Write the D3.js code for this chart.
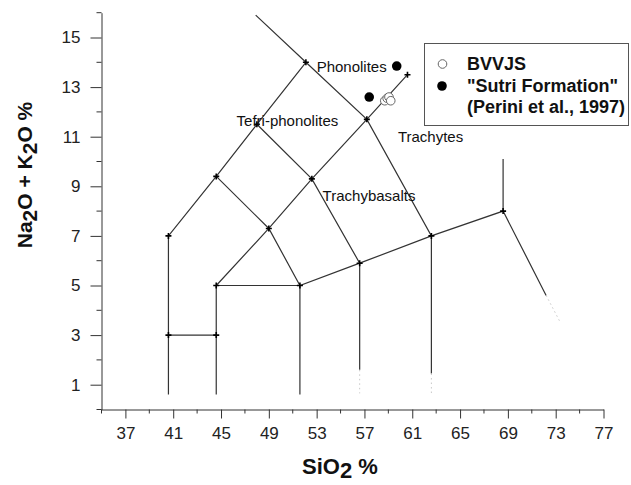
<!DOCTYPE html>
<html><head><meta charset="utf-8">
<script src="https://cdn.jsdelivr.net/npm/d3@7/dist/d3.min.js"></script>
<style>body{margin:0;background:#fff}svg{display:block}</style>
</head><body><svg id="c" width="631" height="485"></svg>
<script>
// ---- data ----
const xTickLabels = [37,41,45,49,53,57,61,65,69,73,77];
const yTickLabels = [1,3,5,7,9,11,13,15];
// field boundaries (SiO2, Na2O+K2O)
const boundaryLines = [
  [[40.6,0.6],[40.6,7],[44.6,9.4],[48.0,11.5],[52.1,14]],
  [[47.9,15.9],[52.1,14],[57.2,11.7],[62.6,7],[62.6,1.45]],
  [[40.6,3],[44.6,3]],
  [[44.6,0.6],[44.6,5],[51.6,5],[51.6,0.6]],
  [[44.6,9.4],[49.0,7.3],[51.6,5],[56.6,5.9],[62.6,7],[68.6,8],[72.2,4.6]],
  [[44.6,5],[49.0,7.3],[52.6,9.3],[57.2,11.7],[60.6,13.5]],
  [[48.0,11.5],[52.6,9.3],[56.6,5.9],[56.6,1.6]],
  [[68.6,8],[68.6,10.1]]
];
const faintLines = [
  [[56.6,1.6],[56.6,0.65]],
  [[62.6,1.45],[62.6,0.62]],
  [[72.2,4.6],[73.4,3.5]]
];
const vertices = [[40.6,7],[40.6,3],[44.6,3],[44.6,5],[51.6,5],[56.6,5.9],[62.6,7],[68.6,8],
  [44.6,9.4],[49.0,7.3],[48.0,11.5],[52.6,9.3],[52.1,14],[57.2,11.7],[60.6,13.5]];
const fieldNames = ["Phonolites","Tefri-phonolites","Trachytes","Trachybasalts"];
const fieldAnchors = [[53.0,13.6],[46.3,11.45],[59.8,10.8],[53.5,8.4]];
const bvvjs = [[58.7,12.45],[58.9,12.55],[59.05,12.6],[59.2,12.45]];
const sutri = [[57.4,12.6],[59.7,13.85]];
const legendLabels = ["BVVJS","\"Sutri Formation\"","(Perini et al., 1997)"];

// ---- drawing ----
const svg = d3.select("#c");
const FONT = "'Liberation Sans', Arial, sans-serif";
const x = d3.scaleLinear().domain([35,77]).range([101.5,603.5]);
const y = d3.scaleLinear().domain([0,16]).range([409.5,12.7]);
const ink = "#333";

// axes
const xAxis = d3.axisBottom(x).tickValues(xTickLabels).tickSize(9).tickSizeOuter(0).tickPadding(8);
const gx = svg.append("g").attr("transform",`translate(0,${y(0)})`).call(xAxis);
gx.selectAll("text").attr("font-size",17).attr("font-family",FONT).attr("fill","#222");
gx.selectAll("line,path").attr("stroke",ink);
gx.selectAll(".minor").data(d3.range(35,77,4)).enter().append("line")
  .attr("x1",d=>x(d)).attr("x2",d=>x(d)).attr("y1",0).attr("y2",4).attr("stroke",ink);

const yAxis = d3.axisLeft(y).tickValues(yTickLabels).tickSize(11).tickSizeOuter(0).tickPadding(10);
const gy = svg.append("g").attr("transform",`translate(${x(35)},0)`).call(yAxis);
gy.selectAll("text").attr("font-size",17).attr("font-family",FONT).attr("fill","#222");
gy.selectAll("line,path").attr("stroke",ink);
gy.selectAll(".minor").data(d3.range(0,17,2)).enter().append("line")
  .attr("y1",d=>y(d)).attr("y2",d=>y(d)).attr("x1",0).attr("x2",-5).attr("stroke",ink);
svg.selectAll(".domain").attr("stroke",ink);

// boundaries
const line = d3.line().x(d=>x(d[0])).y(d=>y(d[1]));
svg.append("g").selectAll("path").data(boundaryLines).enter().append("path")
  .attr("d",line).attr("fill","none").attr("stroke",ink).attr("stroke-width",1.2);
svg.append("g").selectAll("path").data(faintLines).enter().append("path")
  .attr("d",line).attr("fill","none").attr("stroke","#c8c8c8").attr("stroke-width",1).attr("stroke-dasharray","1.5,3");

// plus markers
const plus = svg.append("g");
vertices.forEach(v=>{
  const cx=x(v[0]), cy=y(v[1]);
  plus.append("path").attr("d",`M${cx-3},${cy}H${cx+3}M${cx},${cy-3}V${cy+3}`)
    .attr("stroke","#000").attr("stroke-width",1.6);
});

// field labels
svg.append("g").selectAll("text").data(fieldNames).enter().append("text")
  .attr("x",(d,i)=>x(fieldAnchors[i][0])).attr("y",(d,i)=>y(fieldAnchors[i][1]))
  .attr("font-family",FONT).attr("font-size",15).attr("fill","#111").text(d=>d);

// data points
svg.append("g").selectAll("circle").data(sutri).enter().append("circle")
  .attr("cx",d=>x(d[0])).attr("cy",d=>y(d[1])).attr("r",4.8).attr("fill","#000");
svg.append("g").selectAll("circle").data(bvvjs).enter().append("circle")
  .attr("cx",d=>x(d[0])).attr("cy",d=>y(d[1])).attr("r",4.3).attr("fill","#fff")
  .attr("stroke","#666").attr("stroke-width",1);

// legend
const lg = svg.append("g");
lg.append("rect").attr("x",424.5).attr("y",43.5).attr("width",204).attr("height",82)
  .attr("fill","#fff").attr("stroke","#555").attr("stroke-width",1);
lg.append("circle").attr("cx",442.5).attr("cy",64).attr("r",4.3).attr("fill","#fff").attr("stroke","#666");
lg.append("circle").attr("cx",442).attr("cy",86).attr("r",4.8).attr("fill","#000");
lg.selectAll("text").data(legendLabels).enter().append("text")
  .attr("x",467).attr("y",(d,i)=>70+i*21.7)
  .attr("font-family",FONT).attr("font-weight","bold").attr("font-size",18).attr("fill","#111").text(d=>d);

// axis titles
const xt = svg.append("text").attr("x",340).attr("y",474).attr("text-anchor","middle")
  .attr("font-family",FONT).attr("font-weight","bold").attr("font-size",22).attr("fill","#111");
xt.append("tspan").text("SiO");
xt.append("tspan").attr("dy",4).text("2");
xt.append("tspan").attr("dy",-4).text(" %");

const yt = svg.append("text").attr("transform","translate(32,175) rotate(-90)").attr("text-anchor","middle")
  .attr("font-family",FONT).attr("font-weight","bold").attr("font-size",21).attr("fill","#111");
yt.append("tspan").text("Na");
yt.append("tspan").attr("dy",5).text("2");
yt.append("tspan").attr("dy",-5).text("O + K");
yt.append("tspan").attr("dy",5).text("2");
yt.append("tspan").attr("dy",-5).text("O %");
</script></body></html>
